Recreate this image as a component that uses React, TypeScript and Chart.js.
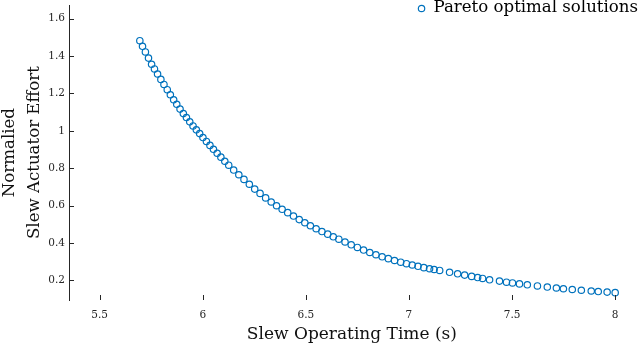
import { useEffect, useRef } from 'react';
import { Chart, registerables } from 'chart.js';

Chart.register(...registerables);

// Slew operating time (s) of each Pareto optimal solution
const operatingTime = [
  5.695, 5.708, 5.722, 5.737, 5.752, 5.766, 5.781, 5.797, 5.812, 5.828,
  5.843, 5.859, 5.874, 5.89, 5.906, 5.921, 5.937, 5.953, 5.969, 5.985,
  6.001, 6.018, 6.035, 6.052, 6.07, 6.088, 6.107,
  6.126, 6.15, 6.175, 6.2, 6.226, 6.252, 6.278, 6.305, 6.332, 6.358,
  6.385, 6.412, 6.44, 6.468, 6.495, 6.522, 6.55, 6.578, 6.606, 6.633, 6.66,
  6.69, 6.72, 6.75, 6.78, 6.81, 6.84, 6.87, 6.9, 6.93, 6.96,
  6.988, 7.016, 7.044, 7.072, 7.1, 7.122, 7.149,
  7.197, 7.236, 7.27, 7.304, 7.333, 7.357, 7.391, 7.439, 7.473, 7.502,
  7.536, 7.574, 7.623, 7.671, 7.715, 7.749, 7.792, 7.836, 7.884, 7.918,
  7.961, 8.0,
];

// Normalised slew actuator effort of each solution
const actuatorEffort = [
  1.482, 1.452, 1.422, 1.389, 1.356, 1.331, 1.304, 1.275, 1.248, 1.22,
  1.193, 1.166, 1.142, 1.116, 1.092, 1.071, 1.048, 1.026, 1.005, 0.985,
  0.964, 0.943, 0.922, 0.901, 0.88, 0.859, 0.837,
  0.816, 0.79, 0.765, 0.74, 0.714, 0.688, 0.665, 0.641, 0.619, 0.599,
  0.58, 0.562, 0.544, 0.525, 0.508, 0.492, 0.476, 0.461, 0.447, 0.433, 0.42,
  0.405, 0.39, 0.376, 0.362, 0.349, 0.337, 0.326, 0.316, 0.306, 0.297,
  0.289, 0.282, 0.275, 0.268, 0.262, 0.258, 0.253,
  0.243, 0.235, 0.228, 0.221, 0.215, 0.21, 0.203, 0.196, 0.19, 0.186,
  0.181, 0.176, 0.17, 0.164, 0.159, 0.155, 0.151, 0.147, 0.143, 0.14,
  0.137, 0.134,
];

const xTicks = [5.5, 6, 6.5, 7, 7.5, 8];
const yTicks = [0.2, 0.4, 0.6, 0.8, 1, 1.2, 1.4, 1.6];
const seriesLabel = 'Pareto optimal solutions';
const xTitle = 'Slew Operating Time (s)';
const yTitle = ['Normalied', 'Slew Actuator Effort'];

const FONT = "'DejaVu Serif', serif";
const BLUE = '#0072BD';
const INK = '#262626';

const inwardTicks = {
  id: 'inwardTicks',
  afterDraw(chart: any) {
    const { ctx, chartArea, scales } = chart;
    ctx.save();
    ctx.strokeStyle = INK;
    ctx.lineWidth = 1;
    ctx.beginPath();
    scales.x.ticks.forEach((t: any) => {
      const px = Math.round(scales.x.getPixelForValue(t.value)) + 0.5;
      ctx.moveTo(px, chartArea.bottom);
      ctx.lineTo(px, chartArea.bottom - 5);
    });
    scales.y.ticks.forEach((t: any) => {
      const py = Math.round(scales.y.getPixelForValue(t.value)) + 0.5;
      ctx.moveTo(chartArea.left, py);
      ctx.lineTo(chartArea.left + 5, py);
    });
    ctx.stroke();
    ctx.restore();
  },
};

// Legend in the top-right corner, styled from the dataset itself
const cornerLegend = {
  id: 'cornerLegend',
  afterDraw(chart: any) {
    const { ctx } = chart;
    const ds = chart.data.datasets[0];
    ctx.save();
    ctx.font = `16.6px ${FONT}`;
    ctx.textAlign = 'right';
    ctx.textBaseline = 'alphabetic';
    ctx.fillStyle = '#000';
    const right = chart.width - 2;
    const w = ctx.measureText(ds.label).width;
    ctx.fillText(ds.label, right, 12);
    ctx.beginPath();
    ctx.arc(right - w - 12, 8.5, ds.pointRadius, 0, Math.PI * 2);
    ctx.strokeStyle = ds.pointBorderColor;
    ctx.lineWidth = ds.pointBorderWidth;
    ctx.stroke();
    ctx.restore();
  },
};

export default function App() {
  const canvasRef = useRef<HTMLCanvasElement | null>(null);

  useEffect(() => {
    if (!canvasRef.current) return;
    const chart = new Chart(canvasRef.current, {
      type: 'scatter',
      data: {
        datasets: [
          {
            label: seriesLabel,
            data: operatingTime.map((x, i) => ({ x, y: actuatorEffort[i] })),
            showLine: false,
            pointStyle: 'circle',
            pointRadius: 3.2,
            pointBorderWidth: 1.2,
            borderWidth: 1.2,
            borderColor: BLUE,
            pointBorderColor: BLUE,
            backgroundColor: 'rgba(0,0,0,0)',
            pointBackgroundColor: 'rgba(0,0,0,0)',
          },
        ],
      },
      options: {
        responsive: false,
        animation: false,
        events: [],
        layout: { padding: { left: 0, right: 3.6, top: 0, bottom: 0 } },
        plugins: {
          legend: { display: false },
          tooltip: { enabled: false },
        },
        scales: {
          x: {
            type: 'linear',
            min: 5.3515,
            max: 8.0952,
            afterBuildTicks: (s: any) => {
              s.ticks = xTicks.map((v) => ({ value: v }));
            },
            afterFit: (s: any) => {
              s.height = 47;
              s.paddingLeft = 0;
              s.paddingRight = 0;
            },
            grid: { display: false, drawTicks: false },
            border: { display: false },
            ticks: {
              padding: 9,
              color: INK,
              maxRotation: 0,
              autoSkip: false,
              font: { family: FONT, size: 10.5 },
              callback: (v: any) => String(v),
            },
            title: {
              display: true,
              text: xTitle,
              color: '#111',
              font: { family: FONT, size: 17 },
              padding: { top: 0, bottom: 2 },
            },
          },
          y: {
            type: 'linear',
            min: 0.0948,
            max: 1.672,
            afterBuildTicks: (s: any) => {
              s.ticks = yTicks.map((v) => ({ value: v }));
            },
            afterFit: (s: any) => {
              s.width = 69;
              s.paddingTop = 0;
              s.paddingBottom = 0;
            },
            grid: { display: false, drawTicks: false },
            border: { display: true, color: INK, width: 1 },
            ticks: {
              padding: 4,
              color: INK,
              autoSkip: false,
              font: { family: FONT, size: 10.5 },
              callback: (v: any) => String(v),
            },
            title: {
              display: true,
              text: yTitle,
              color: '#111',
              font: { family: FONT, size: 16.6, lineHeight: 1.48 },
              padding: { top: -2.25, bottom: 0 },
            },
          },
        },
      },
      plugins: [inwardTicks, cornerLegend],
    } as any);
    return () => chart.destroy();
  }, []);

  return (
    <div style={{ position: 'absolute', left: 0, top: 0, width: 640, height: 347 }}>
      <canvas ref={canvasRef} width={640} height={347} style={{ display: 'block' }} />
    </div>
  );
}
